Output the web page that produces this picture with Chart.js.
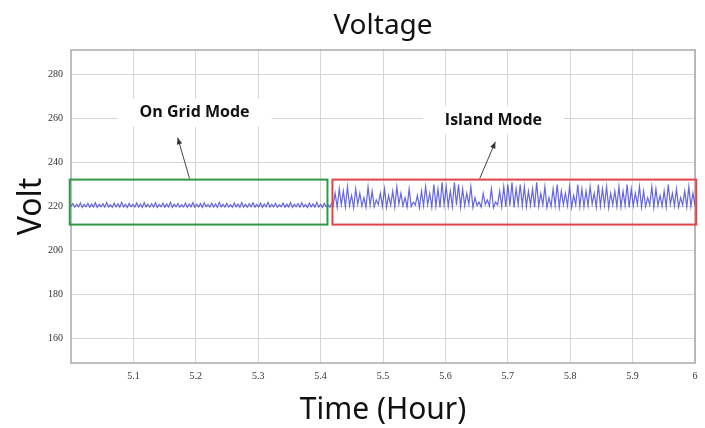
<!DOCTYPE html>
<html>
<head>
<meta charset="utf-8">
<script src="https://cdn.jsdelivr.net/npm/chart.js@4.4.1/dist/chart.umd.min.js"></script>
<style>
  html, body { margin: 0; padding: 0; background: #fff; }
  #wrap { width: 705px; height: 428px; }
</style>
</head>
<body>
<div id="wrap"><canvas id="myChart" width="705" height="428"></canvas></div>
<script>
const xTicks = [5.1, 5.2, 5.3, 5.4, 5.5, 5.6, 5.7, 5.8, 5.9, 6];
const yTicks = [160, 180, 200, 220, 240, 260, 280];

// on grid part (5.0 -> 5.418 h), small ripple around 220 V
const gridStart = 5.0, gridEnd = 5.418;
const gridVolts = [
  220.1,221.3,219.7,221.0,219.8,221.6,219.6,220.9,219.9,221.4,
  219.7,221.1,219.8,221.7,219.6,221.0,219.9,221.3,219.7,221.8,
  219.8,220.8,219.6,221.5,219.9,221.2,219.7,221.9,219.8,221.0,
  219.6,221.4,219.9,220.9,219.7,221.6,219.8,221.1,219.6,221.8,
  219.9,221.0,219.7,221.3,219.8,221.7,219.6,220.9,219.9,221.5,
  219.7,221.2,219.8,221.9,219.6,221.0,219.9,221.4,219.7,220.8,
  219.8,221.6,219.6,221.1,219.9,221.8,219.7,221.0,219.8,221.3,
  219.6,221.7,219.9,220.9,219.7,221.5,219.8,221.2,219.6,221.9,
  219.9,221.0,219.7,221.4,219.8,220.8,219.6,221.6,219.9,221.1,
  219.7,221.8,219.8,221.0,219.6,221.3,219.9,221.7,219.7,220.9,
  219.8,221.5,219.6,221.2,219.9,221.9,219.7,221.0,219.8,221.4,
  219.6,220.8,219.9,221.6,219.7,221.1,219.8,221.8,219.6,221.0,
  219.9,221.3,219.7,221.7,219.8,220.9,219.6,221.5,219.9,221.2,
  219.7,221.9,219.8,221.0,219.6,221.4,219.9,220.8,219.7,221.6
];

// island part (5.42 -> 6.0 h), spikes: low, peak, low, peak ...
const islandStart = 5.42, islandEnd = 6.0;
const islandPeaks = [
  226,228,227,229,225,228,226,224,229,227,223,226,
  228,225,227,229,226,224,228,222,225,
  227,229,226,230,228,231,229,227,231,230,228,226,229,224,222,
  226,223,228,222,227,229,230,231,228,
  230,229,227,228,231,226,229,224,228,230,227,226,
  229,225,230,228,227,229,226,230,228,229,226,227,
  229,227,230,228,226,229,227,224,229,228,225,227,230,226,228,224,227,229,226
];
const islandLows = [
  220.3,219.6,220.8,219.9,220.4,219.5,221.0,220.2,219.7,220.6,
  219.8,220.9,220.1,219.6,220.5,219.9,221.1,220.3,219.7,220.0,
  220.7,219.5,220.4,220.9,219.8,220.2,219.6,220.8,220.1,219.9,
  220.6,219.7,220.3,221.0,219.6,220.5,219.8,220.9,220.2,219.5,
  220.7,220.0,219.8,220.4,219.6,221.0,220.3,219.9,220.6,219.7,
  220.2,220.8,219.5,220.1,220.5,219.8,220.9,220.3,219.6,220.7,
  220.0,219.9,220.4,221.1,219.7,220.2,220.6,219.5,220.8,220.1,
  219.9,220.5,219.6,220.3,220.9,219.8,220.0,220.7,219.6,220.4,
  220.2,219.8,221.0,220.3,219.7,220.6,219.9,220.1,220.4
];

// boxes, arrows and labels (data units)
const modeBoxes = [
  { x1: 4.998, x2: 5.411, y1: 232.2, y2: 211.8, color: "#2f9a45" },
  { x1: 5.419, x2: 6.002, y1: 232.2, y2: 211.8, color: "#e2434b" }
];
const modeArrows = [
  { x1: 5.190, y1: 232.7, x2: 5.171, y2: 251.2 },
  { x1: 5.655, y1: 232.7, x2: 5.680, y2: 249.3 }
];
const modeLabels = [
  { text: "On Grid Mode", x: 5.198, y: 262.6 },
  { text: "Island Mode", x: 5.677, y: 259.2 }
];

function spread(vals, t0, t1) {
  const n = vals.length;
  return vals.map((v, i) => ({ x: t0 + i * (t1 - t0) / (n - 1), y: v }));
}

let islandSeq = [];
islandPeaks.forEach((p, i) => { islandSeq.push(islandLows[i], p); });
islandSeq.push(islandLows[islandLows.length - 1]);

const points = spread(gridVolts, gridStart, gridEnd).concat(spread(islandSeq, islandStart, islandEnd));

const decorPlugin = {
  id: "decor",
  beforeDatasetsDraw(chart) {
    const { ctx, chartArea: a } = chart;
    ctx.save();
    ctx.strokeStyle = "#a9a9a9";
    ctx.lineWidth = 1.5;
    ctx.strokeRect(a.left, a.top, a.right - a.left, a.bottom - a.top);
    ctx.restore();
  },
  afterDatasetsDraw(chart) {
    const { ctx, chartArea: a } = chart;
    const xs = chart.scales.x, ys = chart.scales.y;
    ctx.save();
    // title
    ctx.fillStyle = "#111";
    ctx.font = "28px 'Noto Sans'";
    ctx.textAlign = "center";
    ctx.textBaseline = "middle";
    ctx.fillText("Voltage", (a.left + a.right) / 2, 26);

    modeBoxes.forEach(b => {
      ctx.strokeStyle = b.color;
      ctx.lineWidth = 2;
      const l = xs.getPixelForValue(b.x1), r = xs.getPixelForValue(b.x2);
      const t = ys.getPixelForValue(b.y1), bt = ys.getPixelForValue(b.y2);
      ctx.strokeRect(l, t, r - l, bt - t);
    });

    ctx.font = "bold 16px 'Open Sans'";
    modeLabels.forEach(m => {
      const px = xs.getPixelForValue(m.x), py = ys.getPixelForValue(m.y);
      const w = ctx.measureText(m.text).width;
      ctx.fillStyle = "#fff";
      ctx.fillRect(px - w / 2 - 22, py - 14, w + 44, 28);
      ctx.fillStyle = "#111";
      ctx.fillText(m.text, px, py);
    });

    modeArrows.forEach(ar => {
      const x1 = xs.getPixelForValue(ar.x1), y1 = ys.getPixelForValue(ar.y1);
      const x2 = xs.getPixelForValue(ar.x2), y2 = ys.getPixelForValue(ar.y2);
      ctx.strokeStyle = "#444";
      ctx.fillStyle = "#333";
      ctx.lineWidth = 1;
      ctx.beginPath();
      ctx.moveTo(x1, y1);
      ctx.lineTo(x2, y2);
      ctx.stroke();
      const ang = Math.atan2(y2 - y1, x2 - x1);
      ctx.beginPath();
      ctx.moveTo(x2, y2);
      ctx.lineTo(x2 - 7 * Math.cos(ang - 0.4), y2 - 7 * Math.sin(ang - 0.4));
      ctx.lineTo(x2 - 7 * Math.cos(ang + 0.4), y2 - 7 * Math.sin(ang + 0.4));
      ctx.closePath();
      ctx.fill();
    });
    ctx.restore();
  }
};

const ctx = document.getElementById("myChart");

new Chart(ctx, {
  type: "line",
  data: {
    datasets: [{
      label: "Voltage",
      data: points,
      borderColor: "rgba(50,50,220,0.75)",
      borderWidth: 1.2,
      pointRadius: 0,
      tension: 0
    }]
  },
  options: {
    responsive: false,
    animation: false,
    layout: { padding: { left: 5, right: 10, top: 50, bottom: 0 } },
    plugins: {
      legend: { display: false },
      tooltip: { enabled: false },
      title: { display: false }
    },
    scales: {
      x: {
        type: "linear",
        min: 5,
        max: 6,
        afterBuildTicks: s => { s.ticks = xTicks.map(v => ({ value: v })); },
        afterFit: s => { s.height = 65; },
        ticks: {
          callback: v => String(v),
          font: { family: "'Liberation Serif'", size: 10 },
          color: "#333",
          maxRotation: 0,
          padding: 7
        },
        grid: { color: "#d6d6d6", drawTicks: false },
        border: { display: false },
        title: {
          display: true,
          text: "Time (Hour)",
          font: { family: "'Noto Sans'", size: 30 },
          color: "#111",
          padding: { top: 6, bottom: 0 }
        }
      },
      y: {
        min: 149,
        max: 291,
        afterBuildTicks: s => { s.ticks = yTicks.map(v => ({ value: v })); },
        afterFit: s => { s.width = 66; },
        ticks: {
          font: { family: "'Liberation Serif'", size: 10 },
          color: "#333",
          padding: 8
        },
        grid: { color: "#d6d6d6", drawTicks: false },
        border: { display: false },
        title: {
          display: true,
          text: "Volt",
          font: { family: "'Noto Sans'", size: 32 },
          color: "#111",
          padding: { top: 8, bottom: 0 }
        }
      }
    }
  },
  plugins: [decorPlugin]
});
</script>
</body>
</html>
